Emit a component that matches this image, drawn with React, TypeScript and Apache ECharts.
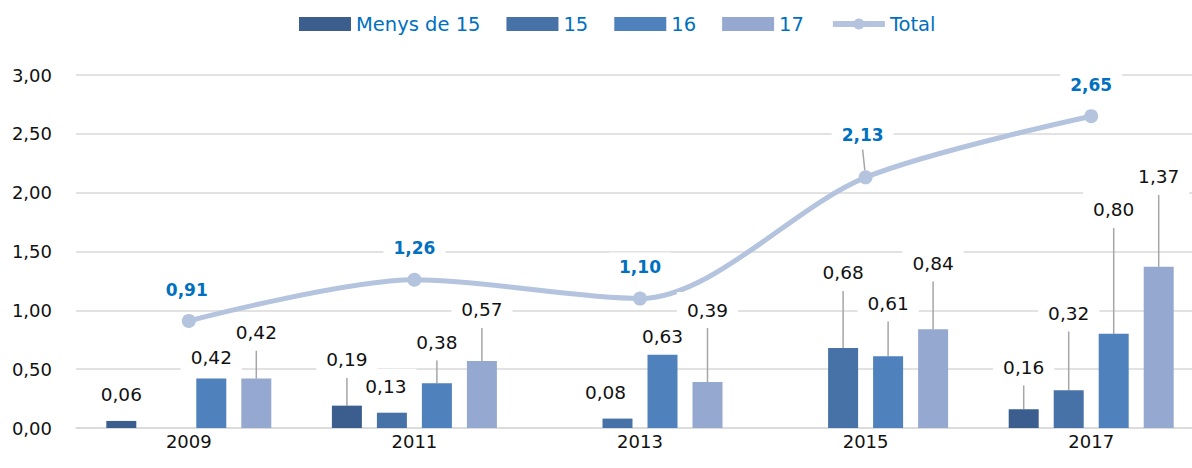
import React, { useEffect, useRef } from "react";
import * as echarts from "echarts";

const CATEGORIES = ["2009", "2011", "2013", "2015", "2017"];
const SERIES_NAMES = ["Menys de 15", "15", "16", "17", "Total"];
const MENYS_15: (number | null)[] = [0.06, 0.19, null, null, 0.16];
const AGE_15: (number | null)[] = [null, 0.13, 0.08, 0.68, 0.32];
const AGE_16: (number | null)[] = [0.42, 0.38, 0.63, 0.61, 0.8];
const AGE_17: (number | null)[] = [0.42, 0.57, 0.39, 0.84, 1.37];
const TOTAL: number[] = [0.91, 1.26, 1.1, 2.13, 2.65];
const Y_MIN = 0;
const Y_MAX = 3;
const Y_STEP = 0.5;

// label placement tweaks (styling only)
const BAR_LABEL_DY = [
  [-3, -23, 0, 0, -19],
  [0, -3, -3, -52, -54],
  [2, -18, 6, -30, -101],
  [-23, -28, -49, -43, -67],
];
const BAR_LABEL_DX = [
  [0, 0, 0, 0, 0],
  [0, -6, -12, 0, 0],
  [0, 0, 0, 0, 0],
  [0, 0, 0, 0, 0],
];
const TOTAL_LABEL_DY = [-5, -6, -6, -16, -5];
const TOTAL_LABEL_DX = [-2, 0, 0, -3, 0];

const BAR_COLORS = ["#3B5E8E", "#4672A7", "#4F81BD", "#95A9D0"];
const LINE_COLOR = "#B4C3DE";
const FONT = "DejaVu Sans";

const fmt = (v: number) => v.toFixed(2).replace(".", ",");

export default function App() {
  const ref = useRef<HTMLDivElement>(null);
  useEffect(() => {
    if (!ref.current) return;
    const chart = echarts.init(ref.current, undefined, { renderer: "svg" });
    const barData = [MENYS_15, AGE_15, AGE_16, AGE_17];
    const barSeries = barData.map((arr, si) => ({
      name: SERIES_NAMES[si],
      type: "bar",
      barWidth: 30,
      barGap: "50%",
      z: 3,
      itemStyle: { color: BAR_COLORS[si] },
      data: arr.map((v, i) =>
        v == null
          ? "-"
          : { value: v, labelLine: { show: BAR_LABEL_DY[si][i] < -10 } }
      ),
      label: {
        show: true,
        position: "top",
        distance: 5,
        fontFamily: FONT,
        fontSize: 18.5,
        color: "#111",
        backgroundColor: "#fff",
        padding: [8, 10],
        lineHeight: 20,
        formatter: (p: any) => fmt(p.value),
      },
      labelLine: {
        show: true,
        smooth: false,
        lineStyle: { color: "#A6A6A6", width: 1.5 },
      },
      labelLayout: (p: any) => ({
        dx: BAR_LABEL_DX[si][p.dataIndex],
        dy: BAR_LABEL_DY[si][p.dataIndex],
      }),
    }));
    const lineSeries = {
      name: SERIES_NAMES[4],
      type: "line",
      smooth: 0.3,
      z: 2,
      symbol: "circle",
      symbolSize: 14,
      lineStyle: { color: LINE_COLOR, width: 5 },
      itemStyle: { color: LINE_COLOR },
      data: TOTAL.map((v, i) => ({
        value: v,
        labelLine: { show: TOTAL_LABEL_DY[i] < -10 },
      })),
      label: {
        show: true,
        position: "top",
        distance: 5,
        fontFamily: FONT,
        fontSize: 17,
        fontWeight: "bold",
        color: "#0070C0",
        backgroundColor: "#fff",
        padding: [4, 10],
        lineHeight: 20,
        formatter: (p: any) => fmt(p.value),
      },
      labelLine: {
        show: true,
        smooth: false,
        lineStyle: { color: "#A6A6A6", width: 1.5 },
      },
      labelLayout: (p: any) => ({
        dx: TOTAL_LABEL_DX[p.dataIndex],
        dy: TOTAL_LABEL_DY[p.dataIndex],
      }),
    };
    chart.setOption({
      animation: false,
      textStyle: { fontFamily: FONT },
      legend: {
        left: 299,
        top: 14,
        padding: 0,
        itemWidth: 52,
        itemHeight: 14,
        itemGap: 26,
        lineStyle: { width: 6 },
        textStyle: { color: "#0070C0", fontSize: 19.5, fontFamily: FONT },
        data: [
          { name: SERIES_NAMES[0], icon: "rect" },
          { name: SERIES_NAMES[1], icon: "rect" },
          { name: SERIES_NAMES[2], icon: "rect" },
          { name: SERIES_NAMES[3], icon: "rect" },
          { name: SERIES_NAMES[4] },
        ],
      },
      grid: { left: 76, right: 0, top: 75, bottom: 40, containLabel: false },
      xAxis: {
        type: "category",
        data: CATEGORIES,
        axisLine: { lineStyle: { color: "#D9D9D9", width: 1.5 } },
        axisTick: { show: false },
        axisLabel: { color: "#111", fontSize: 18, fontFamily: FONT, margin: 4 },
      },
      yAxis: {
        type: "value",
        min: Y_MIN,
        max: Y_MAX,
        interval: Y_STEP,
        axisLine: { show: false },
        axisTick: { show: false },
        splitLine: { lineStyle: { color: "#D9D9D9", width: 1.5 } },
        axisLabel: {
          color: "#111",
          fontSize: 18,
          fontFamily: FONT,
          margin: 24,
          formatter: (v: number) => fmt(v),
        },
      },
      series: [...barSeries, lineSeries],
    });
    return () => chart.dispose();
  }, []);
  return (
    <div
      style={{
        position: "absolute",
        left: 0,
        top: 0,
        width: 1192,
        height: 468,
        overflow: "hidden",
      }}
    >
      <div ref={ref} style={{ width: 1204, height: 468 }} />
    </div>
  );
}
